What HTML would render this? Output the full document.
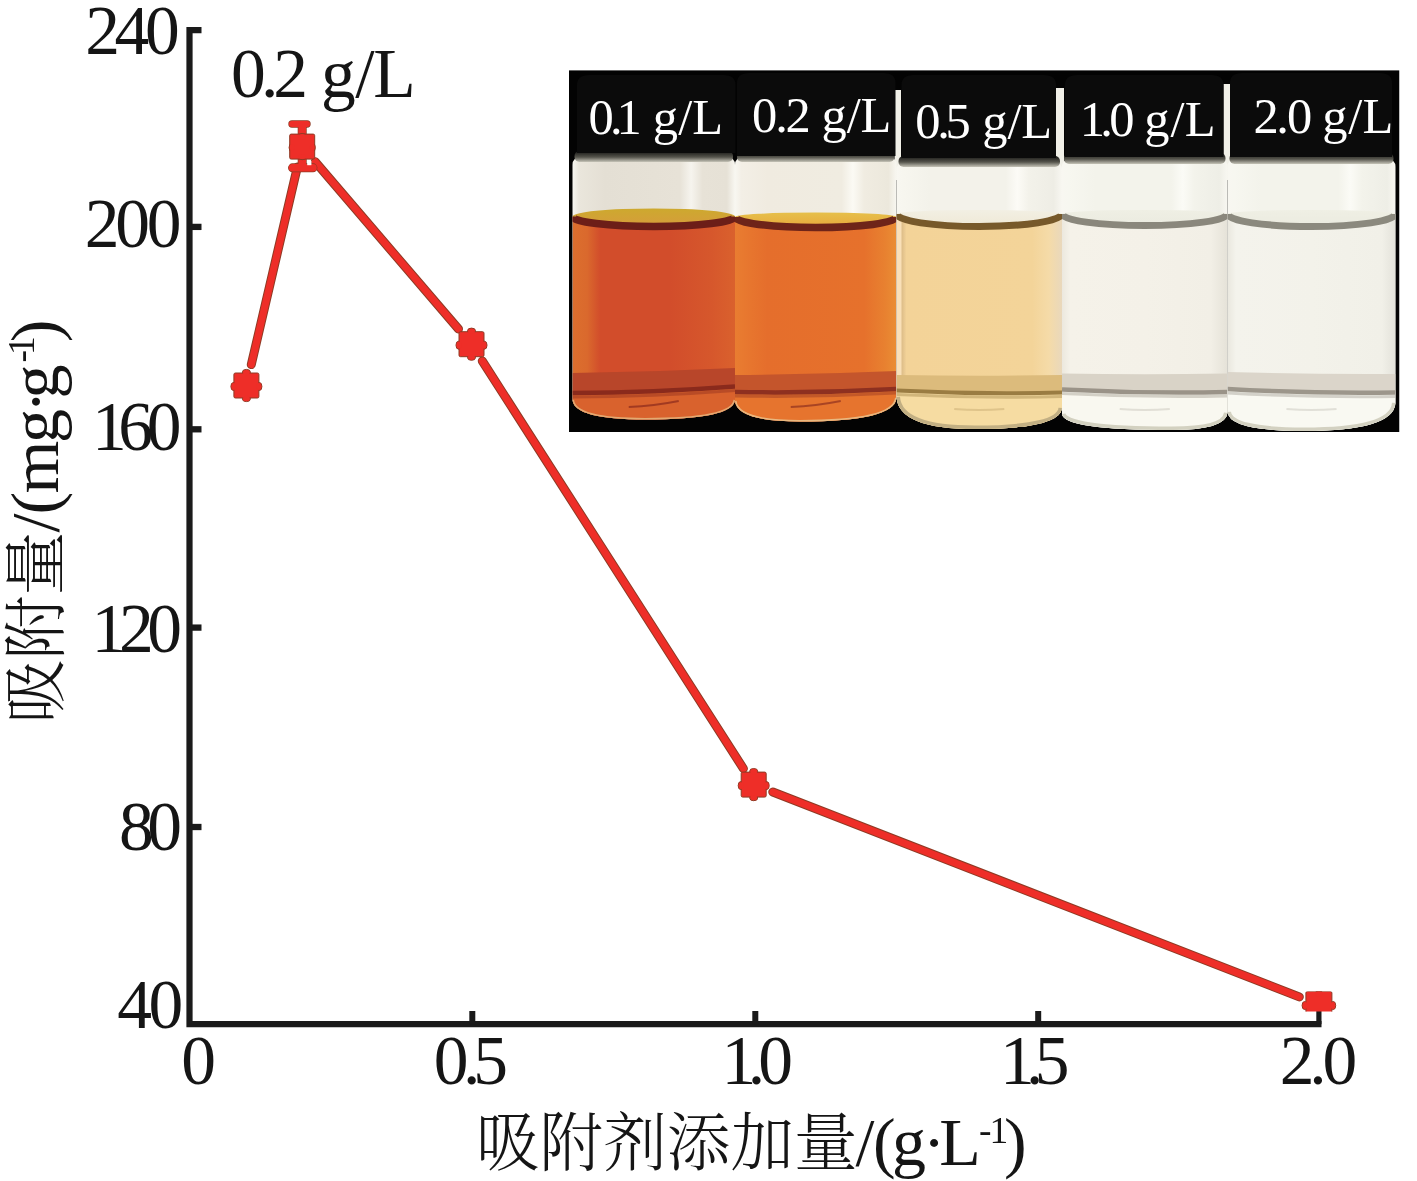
<!DOCTYPE html>
<html lang="zh"><head><meta charset="utf-8"><title>吸附剂添加量</title>
<style>
html,body{margin:0;padding:0;background:#fff;}
body{width:1417px;height:1181px;overflow:hidden;}
svg{display:block;}
text{font-family:"Liberation Serif", "Noto Serif CJK SC", serif;fill:#151515;}
.lab{fill:#fff;}
</style></head><body>
<svg width="1417" height="1181" viewBox="0 0 1417 1181">
<rect width="1417" height="1181" fill="#fff"/>

<defs>
<linearGradient id="lq0" x1="0" x2="1" y1="0" y2="0"><stop offset="0" stop-color="#dc6f2e"/><stop offset="0.09" stop-color="#da692d"/><stop offset="0.17" stop-color="#d24d2b"/><stop offset="0.6" stop-color="#d24d2b"/><stop offset="0.85" stop-color="#d6572c"/><stop offset="1" stop-color="#da612d"/></linearGradient>
<linearGradient id="lq1" x1="0" x2="1" y1="0" y2="0"><stop offset="0" stop-color="#e97d31"/><stop offset="0.1" stop-color="#e7752e"/><stop offset="0.2" stop-color="#e56e2c"/><stop offset="0.8" stop-color="#e6712c"/><stop offset="0.93" stop-color="#e88130"/><stop offset="1" stop-color="#ea8e34"/></linearGradient>
<linearGradient id="lq2" x1="0" x2="1" y1="0" y2="0"><stop offset="0" stop-color="#f9e0b8"/><stop offset="0.025" stop-color="#f9e0b8"/><stop offset="0.035" stop-color="#dfbf8a"/><stop offset="0.06" stop-color="#f3d398"/><stop offset="0.82" stop-color="#f3d499"/><stop offset="0.92" stop-color="#f5dba8"/><stop offset="1" stop-color="#e9d8bc"/></linearGradient>
<linearGradient id="lq3" x1="0" x2="1" y1="0" y2="0"><stop offset="0" stop-color="#ece8de"/><stop offset="0.05" stop-color="#f5f2e9"/><stop offset="0.5" stop-color="#f4f1e8"/><stop offset="0.9" stop-color="#f2efe6"/><stop offset="1" stop-color="#e5e2d8"/></linearGradient>
<linearGradient id="lq4" x1="0" x2="1" y1="0" y2="0"><stop offset="0" stop-color="#e9e7de"/><stop offset="0.05" stop-color="#f4f3ec"/><stop offset="0.5" stop-color="#f3f2ea"/><stop offset="0.92" stop-color="#f1f0e8"/><stop offset="1" stop-color="#e3e2da"/></linearGradient>
<linearGradient id="hd0" x1="0" x2="1" y1="0" y2="0"><stop offset="0" stop-color="#f8f7f1"/><stop offset="0.04" stop-color="#eae6dc"/><stop offset="0.2" stop-color="#e4dfd4"/><stop offset="0.66" stop-color="#e7e2d7"/><stop offset="0.73" stop-color="#f6f4ee"/><stop offset="0.8" stop-color="#e7e2d7"/><stop offset="0.95" stop-color="#e6e1d6"/><stop offset="1" stop-color="#f8f7f1"/></linearGradient>
<linearGradient id="hd1" x1="0" x2="1" y1="0" y2="0"><stop offset="0" stop-color="#f8f7f1"/><stop offset="0.04" stop-color="#f3efe6"/><stop offset="0.2" stop-color="#f0ebe0"/><stop offset="0.66" stop-color="#f0ece1"/><stop offset="0.73" stop-color="#fbfaf4"/><stop offset="0.8" stop-color="#f0ece1"/><stop offset="0.95" stop-color="#ece8dc"/><stop offset="1" stop-color="#f8f7f1"/></linearGradient>
<linearGradient id="hd2" x1="0" x2="1" y1="0" y2="0"><stop offset="0" stop-color="#f8f7f1"/><stop offset="0.04" stop-color="#f7f6ef"/><stop offset="0.2" stop-color="#f3f2ea"/><stop offset="0.66" stop-color="#f3f2ea"/><stop offset="0.73" stop-color="#fcfbf6"/><stop offset="0.8" stop-color="#f3f2ea"/><stop offset="0.95" stop-color="#eeede5"/><stop offset="1" stop-color="#f8f7f1"/></linearGradient>
<linearGradient id="hd3" x1="0" x2="1" y1="0" y2="0"><stop offset="0" stop-color="#f8f7f1"/><stop offset="0.04" stop-color="#f7f7f0"/><stop offset="0.2" stop-color="#f3f3eb"/><stop offset="0.66" stop-color="#f3f3eb"/><stop offset="0.73" stop-color="#fbfbf6"/><stop offset="0.8" stop-color="#f3f3eb"/><stop offset="0.95" stop-color="#eeeee6"/><stop offset="1" stop-color="#f8f7f1"/></linearGradient>
<linearGradient id="hd4" x1="0" x2="1" y1="0" y2="0"><stop offset="0" stop-color="#f8f7f1"/><stop offset="0.04" stop-color="#f7f7f0"/><stop offset="0.2" stop-color="#f3f3eb"/><stop offset="0.66" stop-color="#f3f3eb"/><stop offset="0.73" stop-color="#fbfbf6"/><stop offset="0.8" stop-color="#f3f3eb"/><stop offset="0.95" stop-color="#eeeee6"/><stop offset="1" stop-color="#f8f7f1"/></linearGradient>
<linearGradient id="rim" x1="0" x2="0" y1="0" y2="1"><stop offset="0" stop-color="#141412"/><stop offset="0.55" stop-color="#55544c"/><stop offset="1" stop-color="#c6c4b8"/></linearGradient>
<clipPath id="pc"><rect x="569" y="70.2" width="830.5" height="361.8"/></clipPath>
</defs>
<g clip-path="url(#pc)">
<rect x="569" y="70.2" width="830.5" height="361.8" fill="#030303"/>
<rect x="894.5" y="90" width="6.5" height="90" fill="#f1f0e8"/>
<rect x="1056" y="88" width="8" height="92" fill="#f1f0e8"/>
<rect x="1223.5" y="84" width="6.5" height="96" fill="#f1f0e8"/>
<path d="M572.5 165 Q572.5 157 581.5 157 L726 157 Q735 157 735 165 L735 400 Q733 419.5 645 419.5 Q574.5 419.5 572.5 400 Z" fill="url(#hd0)"/>
<rect x="574.5" y="151" width="158.5" height="11" rx="5" fill="url(#rim)"/>
<clipPath id="vc0"><path d="M572.5 165 Q572.5 157 581.5 157 L726 157 Q735 157 735 165 L735 400 Q733 419.5 645 419.5 Q574.5 419.5 572.5 400 Z"/></clipPath>
<g clip-path="url(#vc0)">
<linearGradient id="sf0" x1="0" x2="0" y1="0" y2="1"><stop offset="0" stop-color="#cda92e"/><stop offset="1" stop-color="#d69c3c"/></linearGradient>
<path d="M572.5 216.5 A81.25 10.0 0 0 0 735 216.5 L735 440 L572.5 440 Z" fill="url(#lq0)"/>
<path d="M572.5 216.5 A81.25 8.0 0 0 1 735 216.5 A81.25 10.0 0 0 1 572.5 216.5 Z" fill="url(#sf0)"/>
<path d="M572.5 216.5 A81.25 10.0 0 0 0 735 216.5" stroke="#6c1e18" stroke-width="7.5" fill="none"/>
<path d="M572.5 373 Q653.75 372.0 735 368 L735 386.5 L572.5 393 Z" fill="#b8462a"/>
<path d="M572.5 393 Q653.75 392.75 735 386.5 L735 440 L572.5 440 Z" fill="#d9622d"/>
<path d="M572.5 393 Q653.75 392.75 735 386.5" stroke="#8a2a1c" stroke-width="4.5" fill="none"/>
<path d="M572.5 397 Q653.75 396.75 735 390.5" stroke="#8a2a1c" stroke-width="3" fill="none" opacity="0.4"/>
<path d="M628.75 407 Q653.75 406 678.75 401" stroke="#8a2a1c" stroke-width="1.8" fill="none" opacity="0.7"/>
<path d="M572.5 400 Q574.5 419.5 645 419.5 Q733 419.5 735 400" stroke="#e3b27a" stroke-width="3" fill="none" opacity="0.9"/>
</g>
<path d="M735 165 Q735 157 744 157 L887.5 157 Q896.5 157 896.5 165 L896.5 398 Q894.5 421.5 800 421.5 Q737 421.5 735 401 Z" fill="url(#hd1)"/>
<rect x="737" y="151" width="157.5" height="11" rx="5" fill="url(#rim)"/>
<clipPath id="vc1"><path d="M735 165 Q735 157 744 157 L887.5 157 Q896.5 157 896.5 165 L896.5 398 Q894.5 421.5 800 421.5 Q737 421.5 735 401 Z"/></clipPath>
<g clip-path="url(#vc1)">
<linearGradient id="sf1" x1="0" x2="0" y1="0" y2="1"><stop offset="0" stop-color="#e6c04a"/><stop offset="1" stop-color="#e8a83c"/></linearGradient>
<path d="M735 217 A80.75 10.5 0 0 0 896.5 217 L896.5 440 L735 440 Z" fill="url(#lq1)"/>
<path d="M735 217 A80.75 4.5 0 0 1 896.5 217 A80.75 10.5 0 0 1 735 217 Z" fill="url(#sf1)"/>
<path d="M735 217 A80.75 10.5 0 0 0 896.5 217" stroke="#6e2419" stroke-width="7.5" fill="none"/>
<path d="M735 375 Q815.75 374.5 896.5 371 L896.5 389 L735 392 Z" fill="#c4552c"/>
<path d="M735 392 Q815.75 393.5 896.5 389 L896.5 440 L735 440 Z" fill="#e6742e"/>
<path d="M735 392 Q815.75 393.5 896.5 389" stroke="#8e3020" stroke-width="4.5" fill="none"/>
<path d="M735 396 Q815.75 397.5 896.5 393" stroke="#8e3020" stroke-width="3" fill="none" opacity="0.4"/>
<path d="M790.75 407 Q815.75 406 840.75 401" stroke="#8e3020" stroke-width="1.8" fill="none" opacity="0.7"/>
<path d="M735 401 Q737 421.5 800 421.5 Q894.5 421.5 896.5 398" stroke="#e8c08a" stroke-width="3" fill="none" opacity="0.9"/>
</g>
<path d="M896.5 170 Q896.5 162 905.5 162 L1053 162 Q1062 162 1062 170 L1062 408 Q1060 429 975 429 Q898.5 429 896.5 397 Z" fill="url(#hd2)"/>
<rect x="898.5" y="156" width="161.5" height="11" rx="5" fill="url(#rim)"/>
<clipPath id="vc2"><path d="M896.5 170 Q896.5 162 905.5 162 L1053 162 Q1062 162 1062 170 L1062 408 Q1060 429 975 429 Q898.5 429 896.5 397 Z"/></clipPath>
<g clip-path="url(#vc2)">
<linearGradient id="sf2" x1="0" x2="0" y1="0" y2="1"><stop offset="0" stop-color="#f2efe3"/><stop offset="1" stop-color="#efe9d6"/></linearGradient>
<path d="M896.5 214 A82.75 12.5 0 0 0 1062 214 L1062 440 L896.5 440 Z" fill="url(#lq2)"/>
<path d="M896.5 214 A82.75 4 0 0 1 1062 214 A82.75 12.5 0 0 1 896.5 214 Z" fill="url(#sf2)"/>
<path d="M896.5 214 A82.75 12.5 0 0 0 1062 214" stroke="#77592a" stroke-width="7" fill="none"/>
<path d="M896.5 375 Q979.25 376.5 1062 375 L1062 392.5 L896.5 390.5 Z" fill="#dcbb7c"/>
<path d="M896.5 390.5 Q979.25 394.5 1062 392.5 L1062 440 L896.5 440 Z" fill="#f6dca2"/>
<path d="M896.5 390.5 Q979.25 394.5 1062 392.5" stroke="#9a7c42" stroke-width="4" fill="none"/>
<path d="M896.5 394.5 Q979.25 398.5 1062 396.5" stroke="#9a7c42" stroke-width="3" fill="none" opacity="0.4"/>
<path d="M954.25 409 Q979.25 411 1004.25 409" stroke="#9a7c42" stroke-width="1.8" fill="none" opacity="0.25"/>
<path d="M896.5 397 Q898.5 429 975 429 Q1060 429 1062 408" stroke="#b5a47c" stroke-width="7" fill="none" opacity="0.8"/>
</g>
<path d="M1062 167 Q1062 159 1071 159 L1218.5 159 Q1227.5 159 1227.5 167 L1227.5 413 Q1225.5 430 1172 430 Q1064 430 1062 414 Z" fill="url(#hd3)"/>
<rect x="1064" y="153" width="161.5" height="11" rx="5" fill="url(#rim)"/>
<clipPath id="vc3"><path d="M1062 167 Q1062 159 1071 159 L1218.5 159 Q1227.5 159 1227.5 167 L1227.5 413 Q1225.5 430 1172 430 Q1064 430 1062 414 Z"/></clipPath>
<g clip-path="url(#vc3)">
<linearGradient id="sf3" x1="0" x2="0" y1="0" y2="1"><stop offset="0" stop-color="#efefe4"/><stop offset="1" stop-color="#ebebe0"/></linearGradient>
<path d="M1062 214 A82.75 11.5 0 0 0 1227.5 214 L1227.5 440 L1062 440 Z" fill="url(#lq3)"/>
<path d="M1062 214 A82.75 4 0 0 1 1227.5 214 A82.75 11.5 0 0 1 1062 214 Z" fill="url(#sf3)"/>
<path d="M1062 214 A82.75 11.5 0 0 0 1227.5 214" stroke="#8a877c" stroke-width="7" fill="none"/>
<path d="M1062 373.5 Q1144.75 375.0 1227.5 373.5 L1227.5 392 L1062 389.5 Z" fill="#d9d3c7"/>
<path d="M1062 389.5 Q1144.75 393.75 1227.5 392 L1227.5 440 L1062 440 Z" fill="#f9f8f0"/>
<path d="M1062 389.5 Q1144.75 393.75 1227.5 392" stroke="#9a9388" stroke-width="4.5" fill="none"/>
<path d="M1062 393.5 Q1144.75 397.75 1227.5 396" stroke="#9a9388" stroke-width="3" fill="none" opacity="0.4"/>
<path d="M1119.75 409 Q1144.75 411 1169.75 409" stroke="#9a9388" stroke-width="1.8" fill="none" opacity="0.25"/>
<path d="M1062 414 Q1064 430 1172 430 Q1225.5 430 1227.5 413" stroke="#c9c7b4" stroke-width="7" fill="none" opacity="0.8"/>
</g>
<path d="M1227.5 167 Q1227.5 159 1236.5 159 L1386.5 159 Q1395.5 159 1395.5 167 L1395.5 403 Q1393.5 431 1304 431 Q1229.5 431 1227.5 412 Z" fill="url(#hd4)"/>
<rect x="1229.5" y="153" width="164.0" height="11" rx="5" fill="url(#rim)"/>
<clipPath id="vc4"><path d="M1227.5 167 Q1227.5 159 1236.5 159 L1386.5 159 Q1395.5 159 1395.5 167 L1395.5 403 Q1393.5 431 1304 431 Q1229.5 431 1227.5 412 Z"/></clipPath>
<g clip-path="url(#vc4)">
<linearGradient id="sf4" x1="0" x2="0" y1="0" y2="1"><stop offset="0" stop-color="#efefe4"/><stop offset="1" stop-color="#ebebe0"/></linearGradient>
<path d="M1227.5 214 A84.0 12.5 0 0 0 1395.5 214 L1395.5 440 L1227.5 440 Z" fill="url(#lq4)"/>
<path d="M1227.5 214 A84.0 4 0 0 1 1395.5 214 A84.0 12.5 0 0 1 1227.5 214 Z" fill="url(#sf4)"/>
<path d="M1227.5 214 A84.0 12.5 0 0 0 1395.5 214" stroke="#8b897e" stroke-width="7" fill="none"/>
<path d="M1227.5 372 Q1311.5 374.5 1395.5 374 L1395.5 392.5 L1227.5 389 Z" fill="#dbd5ca"/>
<path d="M1227.5 389 Q1311.5 393.75 1395.5 392.5 L1395.5 440 L1227.5 440 Z" fill="#f9f9f2"/>
<path d="M1227.5 389 Q1311.5 393.75 1395.5 392.5" stroke="#9c968b" stroke-width="4.5" fill="none"/>
<path d="M1227.5 393 Q1311.5 397.75 1395.5 396.5" stroke="#9c968b" stroke-width="3" fill="none" opacity="0.4"/>
<path d="M1286.5 409 Q1311.5 411 1336.5 409" stroke="#9c968b" stroke-width="1.8" fill="none" opacity="0.25"/>
<path d="M1227.5 412 Q1229.5 431 1304 431 Q1393.5 431 1395.5 403" stroke="#c9c7b4" stroke-width="7" fill="none" opacity="0.8"/>
</g>
<path d="M577 153 L577 85 Q577 75 589 75 L723.5 75 Q735.5 75 735.5 85 L735.5 153 Z" fill="#0b0b0b"/>
<path d="M737 156 L737 83 Q737 73 749 73 L883.5 73 Q895.5 73 895.5 83 L895.5 156 Z" fill="#0b0b0b"/>
<path d="M901.5 158 L901.5 85 Q901.5 75 913.5 75 L1044 75 Q1056 75 1056 85 L1056 158 Z" fill="#0b0b0b"/>
<path d="M1065 157 L1065 85 Q1065 75 1077 75 L1211.5 75 Q1223.5 75 1223.5 85 L1223.5 157 Z" fill="#0b0b0b"/>
<path d="M1230 157 L1230 83 Q1230 73 1242 73 L1380 73 Q1392 73 1392 83 L1392 157 Z" fill="#0b0b0b"/>
</g>
<text class="lab" y="134" font-size="50.5"><tspan x="588.58 610.10 616.48">0.1</tspan> <tspan x="652.63 678.26 692.19">g/L</tspan></text>
<text class="lab" y="132" font-size="50.5"><tspan x="752.08 775.27 785.54">0.2</tspan> <tspan x="821.43 846.86 860.59">g/L</tspan></text>
<text class="lab" y="138" font-size="50.5"><tspan x="915.28 937.17 945.42">0.5</tspan> <tspan x="982.13 1007.56 1021.29">g/L</tspan></text>
<text class="lab" y="135.5" font-size="50.5"><tspan x="1079.86 1100.33 1109.27">1.0</tspan> <tspan x="1144.33 1170.41 1184.79">g/L</tspan></text>
<text class="lab" y="133" font-size="50.5"><tspan x="1253.58 1276.21 1287.07">2.0</tspan> <tspan x="1322.23 1348.26 1362.59">g/L</tspan></text>
<g stroke="#1a1a1a" fill="none" stroke-linecap="butt">
<path d="M201.5 30.2 H189.5 V1024.2 H1321.5" stroke-width="6.2"/>
<path d="M189.5 226.9 H201.5" stroke-width="6.3"/>
<path d="M189.5 429.3 H201.5" stroke-width="6.3"/>
<path d="M189.5 627.6 H201.5" stroke-width="6.3"/>
<path d="M189.5 827 H201.5" stroke-width="6.3"/>
<path d="M472.3 1024.2 V1011" stroke-width="6"/>
<path d="M755.3 1024.2 V1011" stroke-width="6"/>
<path d="M1038.2 1024.2 V1011" stroke-width="6"/>
<path d="M1318.9 1024.2 V1011" stroke-width="5.2"/>
</g>
<text y="54.2" font-size="69.5"><tspan x="85.15 114.39 145.10">240</tspan></text>
<text y="247.3" font-size="69.5"><tspan x="84.85 115.23 146.80">200</tspan></text>
<text y="450" font-size="69.5"><tspan x="91.99 118.17 146.80">160</tspan></text>
<text y="651.9" font-size="69.5"><tspan x="91.49 119.02 147.30">120</tspan></text>
<text y="850" font-size="69.5"><tspan x="119.05 147.30">80</tspan></text>
<text y="1027.7" font-size="69.5"><tspan x="117.24 148.40">40</tspan></text>
<text y="1083.7" font-size="69.5"><tspan x="181.15">0</tspan></text>
<text y="1083.7" font-size="69.5"><tspan x="433.85 462.94 473.26">0.5</tspan></text>
<text y="1083.7" font-size="69.5"><tspan x="721.49 747.82 758.30">1.0</tspan></text>
<text y="1083.7" font-size="69.5"><tspan x="1000.09 1026.05 1034.76">1.5</tspan></text>
<text y="1083.7" font-size="69.5"><tspan x="1279.65 1309.22 1322.60">2.0</tspan></text>
<text y="96.5" font-size="69.5"><tspan x="230.95 261.01 273.28">0.2</tspan> <tspan x="321.01 355.18 373.22">g/L</tspan></text>
<text y="1164.9" font-size="68"><tspan x="476" font-size="63.6" font-weight="300" y="1165">吸附剂添加量</tspan><tspan y="1164.9" x="855.5 873 892.1 922.7 939.3">/(g·L</tspan><tspan font-size="37.5" y="1143" x="978.9 989.6">-1</tspan><tspan y="1164.9" x="1003.9">)</tspan></text>
<text transform="rotate(-90)" y="57.9" font-size="68"><tspan x="-723.5" font-size="64" font-weight="300" y="57.5">吸附量</tspan><tspan y="57.9" x="-532.4 -514.4 -493.4 -443.1 -413 -398.4">/(mg·g</tspan><tspan font-size="37.5" y="33.5" x="-362.5 -355">-1</tspan><tspan y="57.9" x="-342.2">)</tspan></text>
<path d="M251.3 364.6 L297.4 167.0" stroke="#8e3a24" stroke-width="9.0" stroke-linecap="round"/>
<path d="M251.3 364.6 L297.4 167.0" stroke="#ee2e28" stroke-width="7.0" stroke-linecap="round"/>
<path d="M315.2 161.8 L458.5 329.0" stroke="#8e3a24" stroke-width="9.0" stroke-linecap="round"/>
<path d="M315.2 161.8 L458.5 329.0" stroke="#ee2e28" stroke-width="7.0" stroke-linecap="round"/>
<path d="M482.3 361.0 L743.4 768.6" stroke="#8e3a24" stroke-width="9.0" stroke-linecap="round"/>
<path d="M482.3 361.0 L743.4 768.6" stroke="#ee2e28" stroke-width="7.0" stroke-linecap="round"/>
<path d="M772.8 792.0 L1299.3 996.9" stroke="#8e3a24" stroke-width="9.0" stroke-linecap="round"/>
<path d="M772.8 792.0 L1299.3 996.9" stroke="#ee2e28" stroke-width="7.0" stroke-linecap="round"/>
<path d="M302.2 124 V169" stroke="#8e3a24" stroke-width="9.0" stroke-linecap="butt" fill="none"/>
<path d="M292 124 H307" stroke="#8e3a24" stroke-width="7.4" stroke-linecap="round" fill="none"/>
<path d="M292.5 167.8 H313" stroke="#8e3a24" stroke-width="8.9" stroke-linecap="round" fill="none"/>
<path d="M302.2 124 V169" stroke="#ee2e28" stroke-width="7.6" stroke-linecap="butt" fill="none"/>
<path d="M292 124 H307" stroke="#ee2e28" stroke-width="6" stroke-linecap="round" fill="none"/>
<path d="M292.5 167.8 H313" stroke="#ee2e28" stroke-width="7.5" stroke-linecap="round" fill="none"/>
<rect x="307.2" y="160.8" width="4.2" height="4.4" fill="#fff"/>
<defs><clipPath id="mc5"><rect x="1300" y="991.6" width="40" height="19.8"/></clipPath></defs>
<g>
<ellipse cx="246.4" cy="372.2" rx="4" ry="2.8" fill="#ee2e28" stroke="#8e3a24" stroke-width="1"/>
<ellipse cx="246.4" cy="398.8" rx="4" ry="2.8" fill="#ee2e28" stroke="#8e3a24" stroke-width="1"/>
<ellipse cx="233.5" cy="386.5" rx="2.6" ry="4" fill="#ee2e28" stroke="#8e3a24" stroke-width="1"/>
<ellipse cx="259.3" cy="386.5" rx="2.6" ry="4" fill="#ee2e28" stroke="#8e3a24" stroke-width="1"/>
<rect x="233.9" y="373.0" width="25" height="25" rx="1.5" fill="#ee2e28" stroke="#8e3a24" stroke-width="1"/>
<ellipse cx="246.4" cy="372.6" rx="3.4" ry="2.6" fill="#ee2e28"/>
<ellipse cx="246.4" cy="398.4" rx="3.4" ry="2.6" fill="#ee2e28"/>
<ellipse cx="233.9" cy="386.5" rx="2.4" ry="3.4" fill="#ee2e28"/>
<ellipse cx="258.9" cy="386.5" rx="2.4" ry="3.4" fill="#ee2e28"/>
</g>
<g>
<ellipse cx="302.2" cy="136.3" rx="4" ry="2.8" fill="#ee2e28" stroke="#8e3a24" stroke-width="1"/>
<ellipse cx="302.2" cy="156.9" rx="4" ry="2.8" fill="#ee2e28" stroke="#8e3a24" stroke-width="1"/>
<ellipse cx="291.7" cy="147.6" rx="2.6" ry="4" fill="#ee2e28" stroke="#8e3a24" stroke-width="1"/>
<ellipse cx="312.7" cy="147.6" rx="2.6" ry="4" fill="#ee2e28" stroke="#8e3a24" stroke-width="1"/>
<rect x="289.7" y="134.1" width="25" height="25" rx="1.5" fill="#ee2e28" stroke="#8e3a24" stroke-width="1"/>
<ellipse cx="302.2" cy="136.7" rx="3.4" ry="2.6" fill="#ee2e28"/>
<ellipse cx="302.2" cy="156.5" rx="3.4" ry="2.6" fill="#ee2e28"/>
<ellipse cx="292.1" cy="147.6" rx="2.4" ry="3.4" fill="#ee2e28"/>
<ellipse cx="312.3" cy="147.6" rx="2.4" ry="3.4" fill="#ee2e28"/>
</g>
<g>
<ellipse cx="471.5" cy="330.9" rx="4" ry="2.8" fill="#ee2e28" stroke="#8e3a24" stroke-width="1"/>
<ellipse cx="471.5" cy="357.5" rx="4" ry="2.8" fill="#ee2e28" stroke="#8e3a24" stroke-width="1"/>
<ellipse cx="458.6" cy="345.2" rx="2.6" ry="4" fill="#ee2e28" stroke="#8e3a24" stroke-width="1"/>
<ellipse cx="484.4" cy="345.2" rx="2.6" ry="4" fill="#ee2e28" stroke="#8e3a24" stroke-width="1"/>
<rect x="459.0" y="331.7" width="25" height="25" rx="1.5" fill="#ee2e28" stroke="#8e3a24" stroke-width="1"/>
<ellipse cx="471.5" cy="331.3" rx="3.4" ry="2.6" fill="#ee2e28"/>
<ellipse cx="471.5" cy="357.1" rx="3.4" ry="2.6" fill="#ee2e28"/>
<ellipse cx="459.0" cy="345.2" rx="2.4" ry="3.4" fill="#ee2e28"/>
<ellipse cx="484.0" cy="345.2" rx="2.4" ry="3.4" fill="#ee2e28"/>
</g>
<g>
<ellipse cx="753.7" cy="771.3" rx="4" ry="2.8" fill="#ee2e28" stroke="#8e3a24" stroke-width="1"/>
<ellipse cx="753.7" cy="797.9" rx="4" ry="2.8" fill="#ee2e28" stroke="#8e3a24" stroke-width="1"/>
<ellipse cx="740.8" cy="785.6" rx="2.6" ry="4" fill="#ee2e28" stroke="#8e3a24" stroke-width="1"/>
<ellipse cx="766.6" cy="785.6" rx="2.6" ry="4" fill="#ee2e28" stroke="#8e3a24" stroke-width="1"/>
<rect x="741.2" y="772.1" width="25" height="25" rx="1.5" fill="#ee2e28" stroke="#8e3a24" stroke-width="1"/>
<ellipse cx="753.7" cy="771.7" rx="3.4" ry="2.6" fill="#ee2e28"/>
<ellipse cx="753.7" cy="797.5" rx="3.4" ry="2.6" fill="#ee2e28"/>
<ellipse cx="741.2" cy="785.6" rx="2.4" ry="3.4" fill="#ee2e28"/>
<ellipse cx="766.2" cy="785.6" rx="2.4" ry="3.4" fill="#ee2e28"/>
</g>
<g clip-path="url(#mc5)">
<ellipse cx="1318.9" cy="993.7" rx="4" ry="2.8" fill="#ee2e28" stroke="#8e3a24" stroke-width="1"/>
<ellipse cx="1318.9" cy="1015.3" rx="4" ry="2.8" fill="#ee2e28" stroke="#8e3a24" stroke-width="1"/>
<ellipse cx="1304.7" cy="1005.5" rx="2.6" ry="4" fill="#ee2e28" stroke="#8e3a24" stroke-width="1"/>
<ellipse cx="1333.1" cy="1005.5" rx="2.6" ry="4" fill="#ee2e28" stroke="#8e3a24" stroke-width="1"/>
<rect x="1305.9" y="991.5" width="26" height="26" rx="1.5" fill="#ee2e28" stroke="#8e3a24" stroke-width="1"/>
<ellipse cx="1318.9" cy="994.1" rx="3.4" ry="2.6" fill="#ee2e28"/>
<ellipse cx="1318.9" cy="1014.9" rx="3.4" ry="2.6" fill="#ee2e28"/>
<ellipse cx="1305.1" cy="1005.5" rx="2.4" ry="3.4" fill="#ee2e28"/>
<ellipse cx="1332.7" cy="1005.5" rx="2.4" ry="3.4" fill="#ee2e28"/>
</g>
</svg></body></html>
